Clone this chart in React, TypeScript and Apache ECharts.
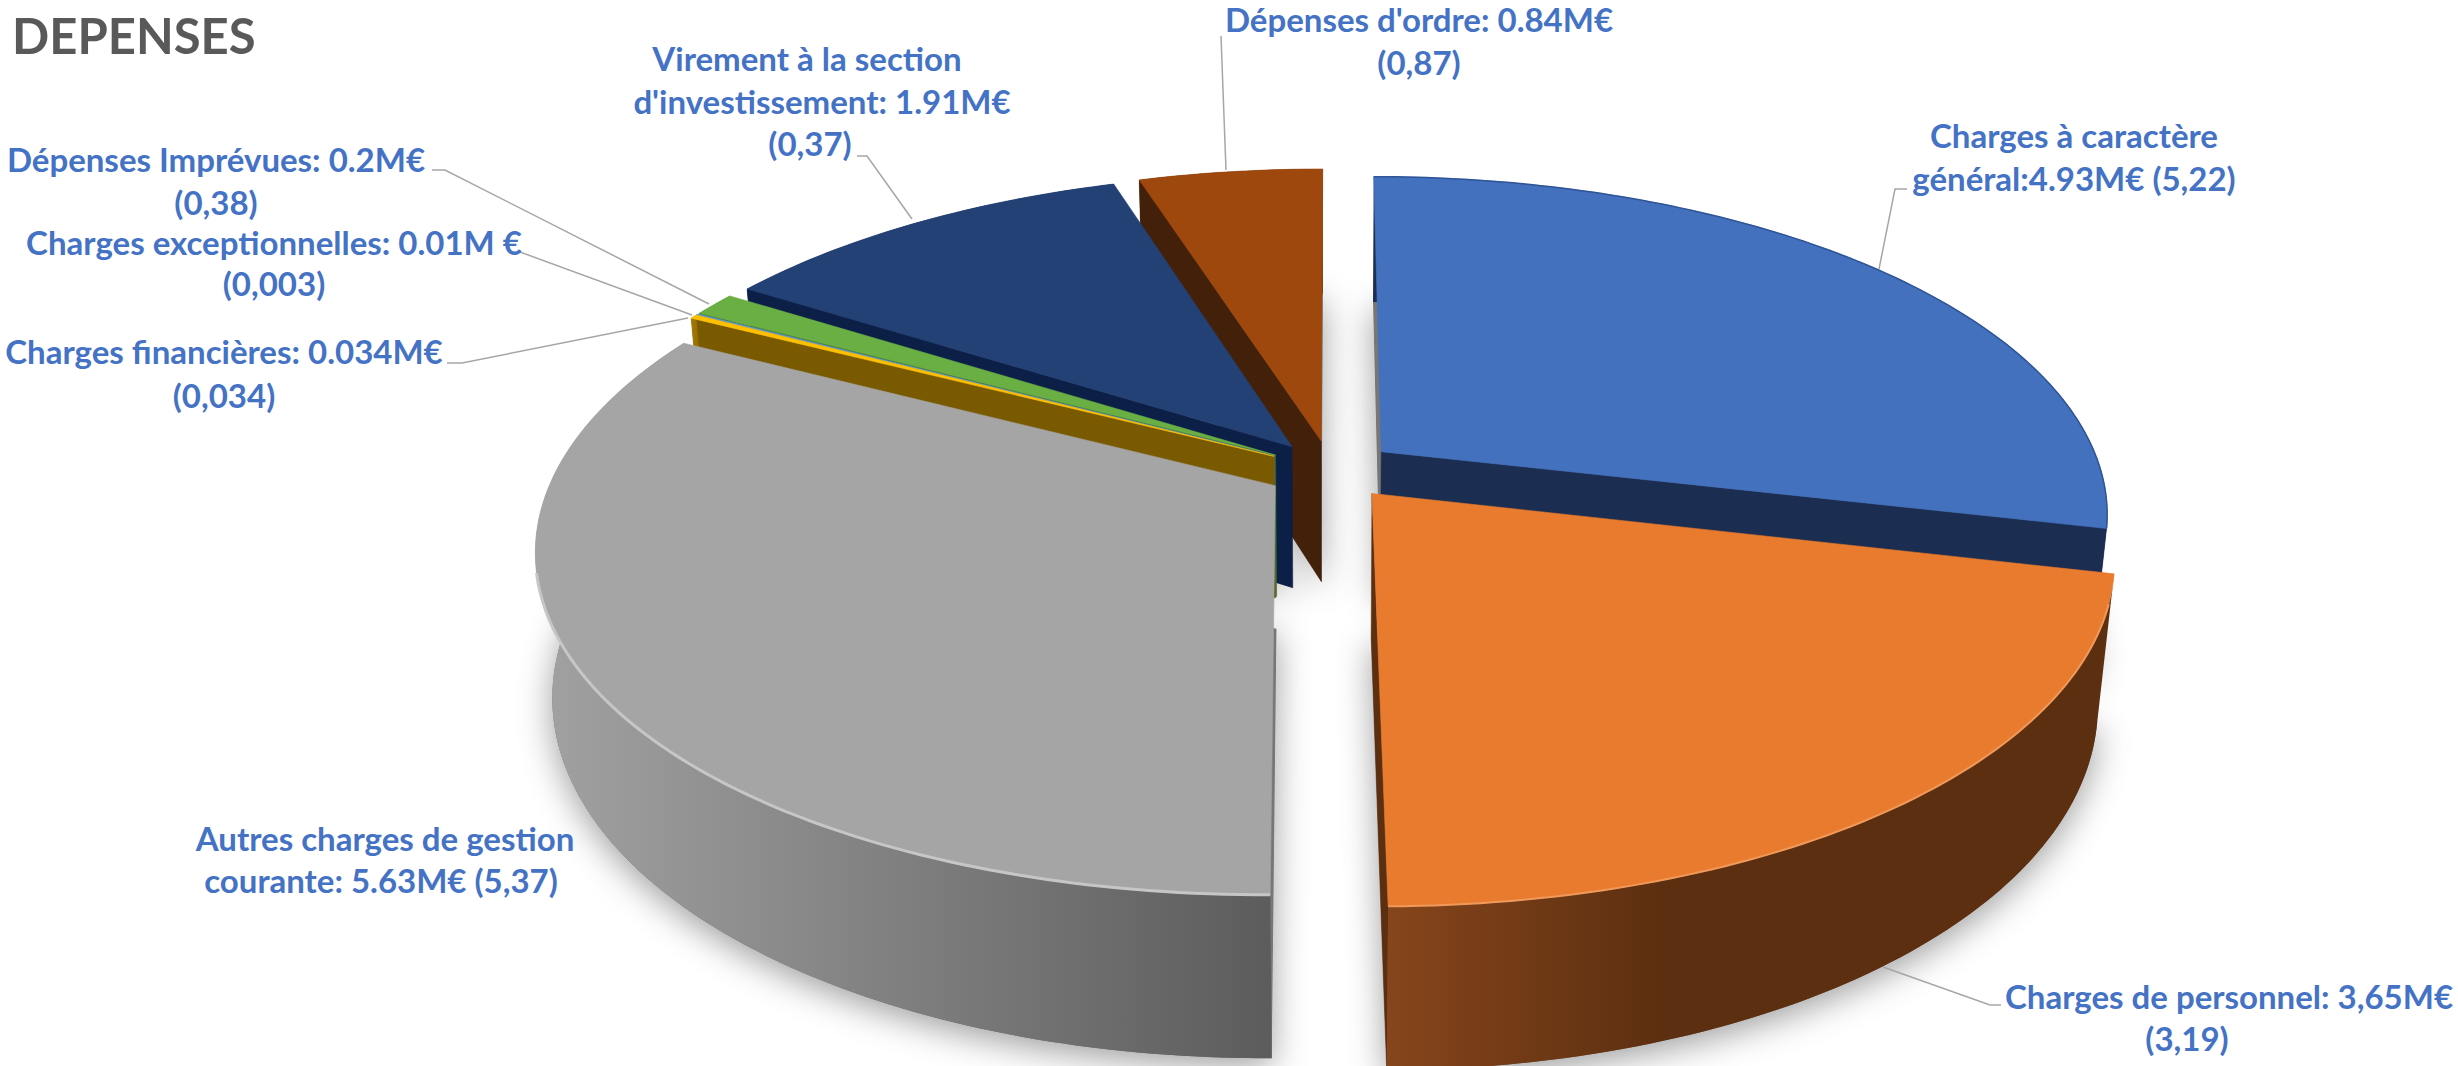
import React, { useEffect, useRef } from "react";
import * as echarts from "echarts";

// ---- data ----
const categories = [
  "Charges à caractère général",
  "Charges de personnel",
  "Autres charges de gestion courante",
  "Charges financières",
  "Charges exceptionnelles",
  "Dépenses Imprévues",
  "Virement à la section d'investissement",
  "Dépenses d'ordre",
];
const values = [4.93, 3.65, 5.63, 0.034, 0.01, 0.2, 1.91, 0.84];

// ---- slice styles ----
const topColors = ["#4371bd", "#e97b2e", "#a5a5a5", "#ffc000", "#5b9bd5", "#6aaf44", "#244175", "#9e480e"];
const wallFrom = ["#1b2d50", "#86451b", "#a2a2a2", "#a87a00", "#3f6d96", "#426e2b", "#0c1f47", "#43200a"];
const wallTo = ["#1b2d50", "#5c2f10", "#5c5c5c", "#7a5a00", "#3f6d96", "#426e2b", "#0c1f47", "#43200a"];
const rimColors = ["#2f5597", "#f0995a", "#c6c6c6", "#ffc000", "#5b9bd5", "#6aaf44", "#244175", "#9e480e"];
const rimWidths = [1.5, 2, 3, 0, 0, 0, 0, 0];
const paintOrder = [7, 6, 5, 4, 3, 2, 0, 1];

// ---- perspective pie geometry ----
const CX = 1331, CY = 470, B = 720, A = 330, C = 640, P = 0.178, Q = 0.0917;
const EXPLODE = 0.09, HEIGHT = 0.227;
const total = values.reduce((s, v) => s + v, 0);
const project = (X: number, Y: number, Z: number) => {
  const w = 1 - P * Y + Q * Z;
  return [CX + (B * X) / w, CY + (A * Y + C * Z) / w];
};
const camY = 4.45;

function sliceGeo(i: number) {
  let before = 0;
  for (let k = 0; k < i; k++) before += values[k];
  const a0 = (before / total) * Math.PI * 2;
  const a1 = ((before + values[i]) / total) * Math.PI * 2;
  const mid = (a0 + a1) / 2;
  const ox = EXPLODE * Math.sin(mid), oy = -EXPLODE * Math.cos(mid);
  const pt = (a: number, z: number) => project(ox + Math.sin(a), oy - Math.cos(a), z);
  const apex = (z: number) => project(ox, oy, z);
  const arc = (from: number, to: number, z: number) => {
    const n = Math.max(2, Math.ceil(((to - from) / Math.PI) * 180));
    const out: number[][] = [];
    for (let s = 0; s <= n; s++) out.push(pt(from + ((to - from) * s) / n, z));
    return out;
  };
  const faces = (a: number, sign: number) => {
    const nx = sign * Math.cos(a), ny = sign * Math.sin(a);
    return nx * (0 - ox) + ny * (camY - oy) > 0.08;
  };
  return { a0, a1, pt, apex, arc, faces };
}

function renderShadow(_: any, api: any) {
  const g = sliceGeo(api.value(0));
  return {
    type: "polygon",
    shape: { points: [g.apex(HEIGHT), ...g.arc(g.a0, g.a1, HEIGHT)] },
    style: {
      fill: "#777777",
      shadowBlur: 34,
      shadowOffsetX: 0,
      shadowOffsetY: 8,
      shadowColor: "rgba(0,0,0,0.38)",
    },
  };
}

function renderSlice(_: any, api: any) {
  const i = api.value(0);
  const g = sliceGeo(i);
  const children: any[] = [];
  const side = (a: number) => ({
    type: "polygon",
    shape: { points: [g.apex(0), g.pt(a, 0), g.pt(a, HEIGHT), g.apex(HEIGHT)] },
    style: { fill: i === 1 ? "#5c2f10" : wallTo[i], stroke: wallTo[i], lineWidth: 0.5 },
  });
  if (g.faces(g.a0, -1)) children.push(side(g.a0));
  if (g.faces(g.a1, 1)) children.push(side(g.a1));
  const wallFill = new echarts.graphic.LinearGradient(
    0,
    0,
    1,
    0,
    i === 1
      ? [
          { offset: 0, color: wallFrom[i] },
          { offset: 0.38, color: wallTo[i] },
          { offset: 1, color: wallTo[i] },
        ]
      : [
          { offset: 0, color: wallFrom[i] },
          { offset: 1, color: wallTo[i] },
        ]
  );
  children.push({
    type: "polygon",
    shape: { points: [...g.arc(g.a0, g.a1, 0), ...g.arc(g.a0, g.a1, HEIGHT).reverse()] },
    style: { fill: wallFill },
  });
  children.push({
    type: "polygon",
    shape: { points: [g.apex(0), ...g.arc(g.a0, g.a1, 0)] },
    style: { fill: topColors[i], stroke: topColors[i], lineWidth: 0.6 },
  });
  if (rimWidths[i] > 0) {
    const frontOnly = i !== 0;
    const from = frontOnly ? Math.max(g.a0, Math.PI * 0.6) : g.a0;
    const to = frontOnly ? Math.min(g.a1, Math.PI * 1.42) : g.a1;
    children.push({
      type: "polyline",
      shape: { points: g.arc(from, to, 0) },
      style: { fill: null, stroke: rimColors[i], lineWidth: rimWidths[i] },
    });
  }
  return { type: "group", children };
}

// ---- texts ----
const FONT = "bold 33px Lato";
const labelLines: [string, number, number][] = [
  ["Dépenses d'ordre: 0.84M€", 1419, 19],
  ["(0,87)", 1419, 62],
  ["Charges à caractère", 2074, 135],
  ["général:4.93M€ (5,22)", 2074, 178],
  ["Charges de personnel: 3,65M€", 2229, 996],
  ["(3,19)", 2187, 1038],
  ["Autres charges de gestion", 385, 838],
  ["courante: 5.63M€ (5,37)", 381, 880],
  ["Virement à la section", 807, 58],
  ["d'investissement: 1.91M€", 822, 101],
  ["(0,37)", 810, 143],
  ["Dépenses Imprévues: 0.2M€", 216, 159],
  ["(0,38)", 216, 202],
  ["Charges exceptionnelles: 0.01M €", 274, 242],
  ["(0,003)", 274, 283],
  ["Charges financières: 0.034M€", 224, 351],
  ["(0,034)", 224, 395],
];
const leaders: number[][][] = [
  [[1221, 36], [1226, 170]],
  [[1907, 189], [1895, 189], [1879, 269]],
  [[2001, 1005], [1990, 1005], [1883, 967]],
  [[857, 156], [867, 156], [912, 219]],
  [[432, 170], [445, 170], [709, 304]],
  [[520, 252], [692, 315]],
  [[447, 363], [462, 363], [688, 318]],
];

export default function App() {
  const ref = useRef<HTMLDivElement>(null);
  useEffect(() => {
    document.body.style.margin = "0";
    const chart = echarts.init(ref.current!, undefined, { renderer: "svg" });
    const rows = paintOrder.map((i) => ({ name: categories[i], value: [i, values[i]] }));
    chart.setOption({
      animation: false,
      backgroundColor: "#ffffff",
      series: [
        { type: "custom", coordinateSystem: "none", silent: true, z: 1, renderItem: renderShadow, data: rows },
        { type: "custom", coordinateSystem: "none", silent: true, z: 2, renderItem: renderSlice, data: rows },
      ],
      graphic: [
        ...leaders.map((pts) => ({
          type: "polyline",
          silent: true,
          z: 10,
          shape: { points: pts },
          style: { fill: null, stroke: "#a6a6a6", lineWidth: 1.5 },
        })),
        {
          type: "text",
          silent: true,
          z: 11,
          style: {
            text: "DEPENSES",
            x: 12,
            y: 35,
            textAlign: "left",
            textVerticalAlign: "middle",
            font: "bold 49px Lato",
            fill: "#595959",
          },
        },
        ...labelLines.map(([text, x, y]) => ({
          type: "text",
          silent: true,
          z: 11,
          style: { text, x, y, textAlign: "center", textVerticalAlign: "middle", font: FONT, fill: "#4472c4" },
        })),
      ],
    });
    return () => chart.dispose();
  }, []);
  return <div ref={ref} style={{ position: "fixed", left: 0, top: 0, width: 2458, height: 1066 }} />;
}
